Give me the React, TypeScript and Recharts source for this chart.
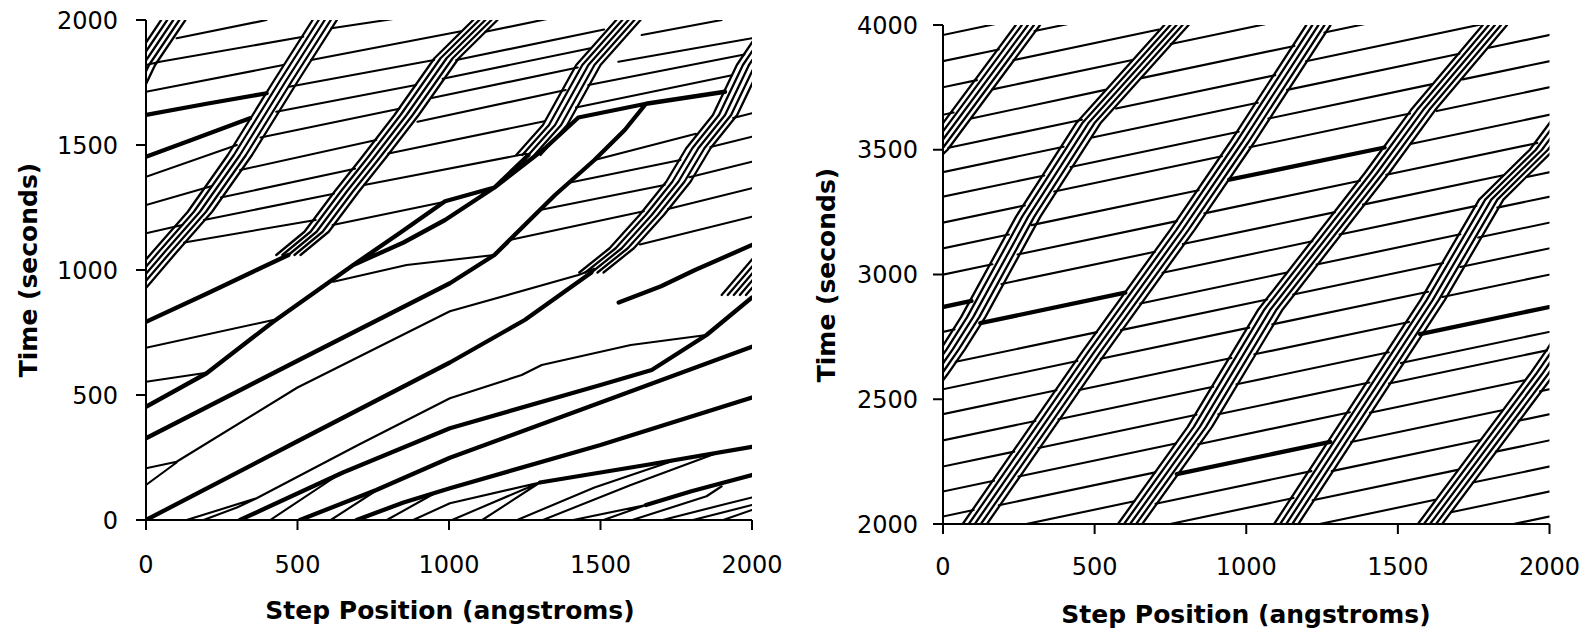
import React from "react";
import { LineChart, Line, XAxis, YAxis } from "recharts";

type Pt = [number, number]; // [step position (Å), time (s)]

const stepTicks = [0, 500, 1000, 1500, 2000];
const earlyTimeTicks = [0, 500, 1000, 1500, 2000];
const lateTimeTicks = [2000, 2500, 3000, 3500, 4000];

// lateral spacing of the steps inside one bunch
const strandOffsets = [-40, -20, 0, 20, 40];

// the surface is periodic: positions past 2000 re-enter at 0
const PERIOD = 2000;

// ---------- 0 - 2000 s ----------
const earlyBunches: Pt[][] = [
  [[-60, 900], [60, 1070], [178, 1233], [310, 1460], [460, 1753], [590, 2000]],
  [[470, 1060], [563, 1153], [662, 1313], [750, 1447], [860, 1620], [992, 1847], [1120, 2000]],
  [[1262, 1460], [1350, 1580], [1460, 1820], [1592, 2000]],
  [[1470, 990], [1570, 1087], [1669, 1220], [1757, 1353], [1823, 1487], [1911, 1620], [1990, 1820], [2040, 1910], [2090, 2000]],
];

const earlyPairs: Pt[][] = [
  [[0, 0], [500, 315], [1003, 630], [1250, 800], [1470, 990]],
  [[0, 327], [500, 637], [1003, 947], [1150, 1060], [1350, 1300], [1480, 1440], [1580, 1560], [1650, 1665]],
  [[0, 453], [200, 587], [420, 793], [684, 1020], [850, 1110], [987, 1200], [1150, 1330], [1262, 1460]],
  [[684, 1020], [840, 1150], [987, 1275], [1150, 1330]],
  [[1150, 1330], [1317, 1487], [1427, 1610], [1650, 1665], [1911, 1713]],
  [[0, 793], [200, 905], [365, 1000], [470, 1060]],
  [[310, 0], [650, 190], [1003, 367], [1500, 540], [1669, 600], [1850, 740], [2000, 890]],
  [[508, 0], [760, 120], [1003, 249], [1500, 470], [2000, 693]],
  [[695, 0], [850, 70], [1003, 127], [1500, 300], [2000, 490]],
  [[1300, 150], [1650, 220], [2000, 293]],
  [[1650, 60], [1800, 115], [2000, 180]],
  [[1560, 870], [1700, 935], [1812, 1000], [2000, 1100]],
  [[0, 1453], [150, 1520], [343, 1607]],
  [[0, 1620], [200, 1665], [398, 1707]],
];

const earlySteps: Pt[][] = [
  // starting rows near t = 0
  [[0, 140], [101, 230]],
  [[0, 207], [101, 233], [500, 530], [1003, 835], [1427, 980], [1480, 1005]],
  [[134, 0], [365, 87], [700, 300], [1003, 487], [1240, 580], [1306, 620], [1600, 700], [1850, 740]],
  [[882, 0], [1003, 67], [1300, 150]],
  [[0, 689], [420, 800]],
  [[0, 553], [189, 587]],
  [[618, 953], [860, 1020], [1150, 1060]],
  [[190, 0], [300, 50], [365, 87]],
  [[410, 0], [640, 185]],
  [[610, 0], [760, 118]],
  [[795, 0], [950, 105]],
  [[1010, 0], [1300, 150]],
  [[1110, 0], [1300, 150]],
  [[1225, 0], [1480, 130], [1750, 241]],
  [[1310, 0], [1600, 140], [1900, 275]],
  [[1410, 0], [1650, 60]],
  [[1510, 0], [1650, 60]],
  [[1605, 0], [1850, 95], [1900, 135]],
  [[1705, 0], [1900, 60], [2000, 90]],
  [[1805, 0], [2000, 60]],
  [[1905, 0], [2000, 40]],
  // terraces entering the first bunch from the left edge
  [[0, 1147], [120, 1180]],
  [[0, 1260], [215, 1335]],
  [[0, 1373], [300, 1500]],
  [[0, 1713], [453, 1820]],
  [[0, 1820], [46, 1833], [519, 1933]],
  [[101, 1927], [398, 2000]],
  // leaving the last bunch towards the right edge
  [[1630, 1102], [2000, 1213]],
  [[1723, 1244], [2000, 1327]],
  [[1793, 1371], [2000, 1433]],
  [[1863, 1492], [2000, 1533]],
  [[1938, 1608], [2000, 1627]],
  // first -> second bunch
  [[126, 1110], [560, 1200]],
  [[191, 1200], [620, 1305]],
  [[247, 1290], [690, 1405]],
  [[311, 1400], [760, 1520]],
  [[378, 1530], [836, 1645]],
  [[430, 1633], [891, 1740]],
  [[472, 1733], [951, 1840]],
  [[545, 1840], [1040, 1955]],
  [[612, 1967], [816, 2004]],
  // second -> third bunch
  [[616, 1180], [987, 1273]],
  [[720, 1340], [1255, 1465]],
  [[800, 1466], [1315, 1595]],
  [[896, 1593], [1385, 1720]],
  [[943, 1688], [1425, 1810]],
  [[979, 1765], [1467, 1887]],
  [[1024, 1840], [1512, 1962]],
  [[1120, 1953], [1320, 2003]],
  // third -> fourth bunch
  [[1419, 1650], [1930, 1778]],
  [[1460, 1740], [1975, 1862]],
  [[1559, 1833], [2000, 1927]],
  [[1636, 1940], [1900, 2000]],
  [[1200, 1120], [1643, 1235]],
  [[1300, 1240], [1712, 1340]],
  [[1400, 1350], [1764, 1440]],
  [[1480, 1440], [1815, 1545]],
];

// ---------- 2000 - 4000 s ----------
const lateBunches: Pt[][] = [
  [[105, 2000], [496, 2685], [790, 3180], [985, 3527], [1238, 4000]],
  [[617, 2000], [847, 2389], [1080, 2860], [1431, 3407], [1583, 3659], [1820, 4000]],
  [[1132, 2000], [1615, 2898], [1808, 3300], [1891, 3400], [1975, 3500], [2280, 4000]],
  [[1606, 2000], [1975, 2600], [2032, 2700], [2100, 2830], [2281, 3232], [2479, 3606], [2770, 4000]],
];

const latePairs: Pt[][] = [
  [[2123, 2805], [2601, 2927]],
  [[1573, 2761], [2094, 2894]],
  [[771, 2200], [1277, 2329]],
  [[944, 3380], [1456, 3509]],
];

const lateSteps: Pt[][] = [
  // fourth bunch -> first bunch (across the boundary)
  [[1604, 1929], [2101, 2056]],
  [[1675, 2047], [2168, 2173]],
  [[1747, 2166], [2235, 2290]],
  [[1823, 2290], [2305, 2413]],
  [[1898, 2414], [2374, 2536]],
  [[1969, 2532], [2443, 2653]],
  [[2042, 2650], [2508, 2769]],
  [[2193, 2962], [2699, 3091]],
  [[2246, 3080], [2771, 3214]],
  [[2292, 3198], [2843, 3338]],
  [[2367, 3333], [2920, 3474]],
  [[2421, 3431], [2975, 3572]],
  [[2492, 3549], [3038, 3688]],
  [[2571, 3665], [3096, 3799]],
  [[2654, 3787], [3159, 3916]],
  [[2751, 3924], [3230, 4046]],
  // third -> fourth
  [[1156, 1978], [1623, 2097]],
  [[1219, 2095], [1697, 2217]],
  [[1282, 2212], [1772, 2337]],
  [[1346, 2329], [1844, 2456]],
  [[1408, 2446], [1918, 2576]],
  [[1471, 2563], [1992, 2696]],
  [[1510, 2645], [2038, 2780]],
  [[1647, 2910], [2163, 3041]],
  [[1706, 3030], [2217, 3160]],
  [[1765, 3148], [2270, 3277]],
  [[1828, 3268], [2334, 3397]],
  [[1925, 3391], [2398, 3512]],
  [[2018, 3508], [2458, 3620]],
  [[2093, 3625], [2535, 3740]],
  [[2163, 3742], [2625, 3860]],
  [[2232, 3859], [2712, 3982]],
  [[2302, 3976], [2790, 4100]],
  // second -> third
  [[636, 1971], [1156, 2104]],
  [[701, 2081], [1215, 2212]],
  [[842, 2320], [1342, 2448]],
  [[908, 2440], [1406, 2567]],
  [[968, 2560], [1470, 2688]],
  [[1027, 2680], [1537, 2810]],
  [[1086, 2800], [1600, 2931]],
  [[1155, 2920], [1649, 3046]],
  [[1232, 3040], [1706, 3161]],
  [[1308, 3160], [1759, 3275]],
  [[1385, 3280], [1848, 3398]],
  [[1462, 3400], [1960, 3527]],
  [[1541, 3523], [2035, 3649]],
  [[1628, 3655], [2112, 3779]],
  [[1714, 3782], [2184, 3902]],
  [[1800, 3909], [2259, 4026]],
  // first -> second
  [[118, 1960], [631, 2091]],
  [[184, 2075], [700, 2207]],
  [[249, 2190], [768, 2323]],
  [[315, 2305], [836, 2438]],
  [[381, 2420], [891, 2550]],
  [[449, 2537], [951, 2665]],
  [[520, 2662], [1010, 2787]],
  [[587, 2777], [1069, 2900]],
  [[651, 2884], [1135, 3008]],
  [[724, 3007], [1218, 3133]],
  [[791, 3122], [1293, 3250]],
  [[862, 3245], [1375, 3376]],
  [[1011, 3510], [1540, 3645]],
  [[1073, 3625], [1614, 3763]],
  [[1135, 3740], [1703, 3885]],
  [[1197, 3855], [1789, 4006]],
  [[1258, 3970], [1650, 4070]],
];

type Row = { x: number; t: number | null };

// a path leaving the box on one side is drawn again on the other side
function periodic(path: Pt[]): Pt[][] {
  const xs = path.map((p) => p[0]);
  const out: Pt[][] = [path];
  if (Math.max(...xs) > PERIOD) out.push(path.map(([x, t]) => [x - PERIOD, t] as Pt));
  if (Math.min(...xs) < 0) out.push(path.map(([x, t]) => [x + PERIOD, t] as Pt));
  return out;
}

// one series per line style, paths separated by null gaps
function toRows(paths: Pt[][]): Row[] {
  const rows: Row[] = [];
  paths.flatMap(periodic).forEach((path) => {
    path.forEach(([x, t]) => rows.push({ x, t }));
    rows.push({ x: path[path.length - 1][0], t: null });
  });
  return rows;
}

function strands(bunches: Pt[][]): Pt[][] {
  return bunches.flatMap((b) => strandOffsets.map((d) => b.map(([x, t]) => [x + d, t] as Pt)));
}

const FONT = "DejaVu Sans, sans-serif";
const axisStyle = { stroke: "#000", strokeWidth: 2 };

function XTick({ x, y, payload }: any) {
  return (
    <text x={x} y={y} dy={17.5} textAnchor="middle" fontSize={24} fontFamily={FONT} fill="#000">
      {payload.value}
    </text>
  );
}

function YTick({ x, y, payload }: any) {
  return (
    <text x={x} y={y} dy={8.7} textAnchor="end" fontSize={24} fontFamily={FONT} fill="#000">
      {payload.value}
    </text>
  );
}

type PanelProps = {
  left: number;
  width: number;
  margin: { top: number; right: number; bottom: number; left: number };
  timeDomain: [number, number];
  timeTicks: number[];
  yTickGap: number;
  xTickGap: number;
  bunches: Pt[][];
  pairs: Pt[][];
  steps: Pt[][];
};

function Panel({ left, width, margin, timeDomain, timeTicks, yTickGap, xTickGap, bunches, pairs, steps }: PanelProps) {
  const series = [
    { key: "bunch", rows: toRows(strands(bunches)), width: 2.3 },
    { key: "step", rows: toRows(steps), width: 2.1 },
    { key: "pair", rows: toRows(pairs), width: 4.3 },
  ];
  return (
    <div style={{ position: "absolute", left, top: 0 }}>
      <LineChart width={width} height={635} margin={margin}>
        <XAxis
          type="number"
          dataKey="x"
          domain={[0, 2000]}
          ticks={stepTicks}
          interval={0}
          allowDataOverflow
          height={30}
          tickSize={10}
          tickMargin={xTickGap}
          tick={<XTick />}
          axisLine={axisStyle}
          tickLine={axisStyle}
        />
        <YAxis
          type="number"
          domain={timeDomain}
          ticks={timeTicks}
          interval={0}
          allowDataOverflow
          width={60}
          tickSize={10}
          tickMargin={yTickGap}
          tick={<YTick />}
          axisLine={axisStyle}
          tickLine={axisStyle}
        />
        {series.map((s) => (
          <Line
            key={s.key}
            data={s.rows}
            dataKey="t"
            type="linear"
            stroke="#000"
            strokeWidth={s.width}
            strokeLinejoin="round"
            strokeLinecap="round"
            dot={false}
            activeDot={false}
            connectNulls={false}
            legendType="none"
            isAnimationActive={false}
          />
        ))}
      </LineChart>
    </div>
  );
}

const titleFont = {
  fontFamily: FONT,
  fontWeight: 700,
  fontSize: 25,
  fill: "#000",
};

export default function App() {
  return (
    <div style={{ position: "absolute", left: 0, top: 0, width: 1594, height: 635, background: "#fff" }}>
      <Panel
        left={0}
        width={800}
        margin={{ top: 20, right: 48, bottom: 85, left: 86 }}
        timeDomain={[0, 2000]}
        timeTicks={earlyTimeTicks}
        yTickGap={18}
        xTickGap={25}
        bunches={earlyBunches}
        pairs={earlyPairs}
        steps={earlySteps}
      />
      <Panel
        left={800}
        width={794}
        margin={{ top: 25, right: 44.5, bottom: 81, left: 83 }}
        timeDomain={[2000, 4000]}
        timeTicks={lateTimeTicks}
        yTickGap={15}
        xTickGap={23}
        bunches={lateBunches}
        pairs={latePairs}
        steps={lateSteps}
      />
      <svg width={1594} height={635} style={{ position: "absolute", left: 0, top: 0, pointerEvents: "none" }}>
        <text x={450} y={619} textAnchor="middle" {...titleFont}>
          Step Position (angstroms)
        </text>
        <text x={1246} y={623} textAnchor="middle" {...titleFont}>
          Step Position (angstroms)
        </text>
        <text transform="translate(37,270) rotate(-90)" textAnchor="middle" {...titleFont}>
          Time (seconds)
        </text>
        <text transform="translate(835,275) rotate(-90)" textAnchor="middle" {...titleFont}>
          Time (seconds)
        </text>
      </svg>
    </div>
  );
}
